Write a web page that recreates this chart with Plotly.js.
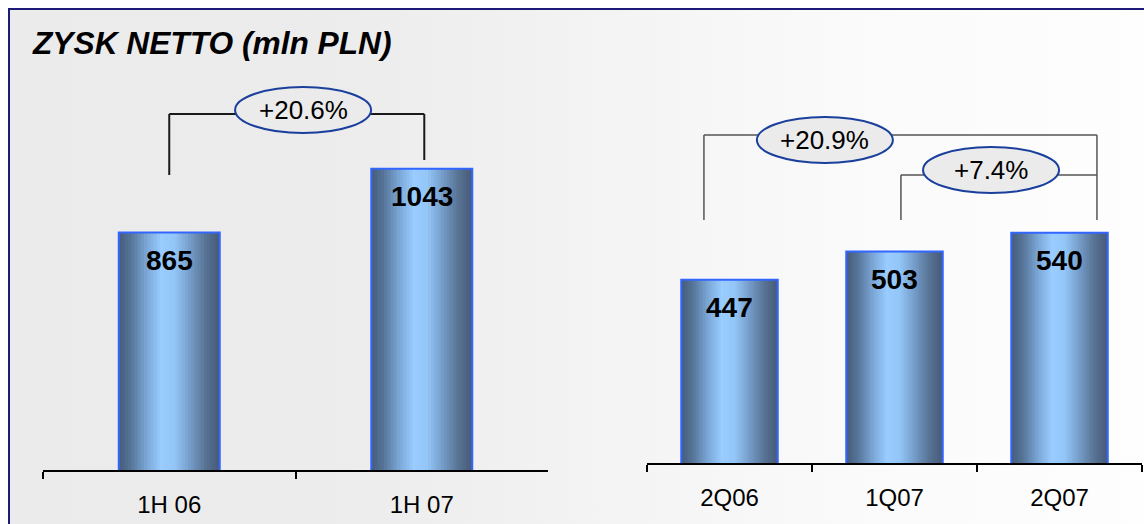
<!DOCTYPE html>
<html>
<head>
<meta charset="utf-8">
<script src="https://cdn.plot.ly/plotly-3.0.1.min.js"></script>
<style>
  html, body { margin: 0; padding: 0; background: #ffffff; }
  #wrap { position: relative; width: 1144px; height: 524px; overflow: hidden; }
  #bg {
    position: absolute; left: 8px; top: 8px; width: 1150px; height: 530px;
    border-top: 2px solid #1c1c78; border-left: 2px solid #1c1c78;
    background: linear-gradient(to right, #ebebeb 0%, #ececec 28%, #f2f2f2 48%, #f7f7f7 62%, #fbfbfb 78%, #fefefe 100%);
  }
  #chart { position: absolute; left: 0; top: 0; width: 1144px; height: 524px; }
</style>
</head>
<body>
<div id="wrap">
  <div id="bg"></div>
  <div id="chart"></div>
</div>
<script>
// ---- data ----
const titleText = 'ZYSK NETTO (mln PLN)';
const halfYearCats = ['1H 06', '1H 07'];
const halfYearVals = [865, 1043];
const quarterCats = ['2Q06', '1Q07', '2Q07'];
const quarterVals = [447, 503, 540];
const changeHalfYear = '+20.6%';
const changeYoY = '+20.9%';
const changeQoQ = '+7.4%';

// ---- style helpers ----
const FONT = 'Arial, "Liberation Sans", sans-serif';
const W = 1144, H = 524;
const py = p => 1 - p / H;
const px = p => p / W;

const stops = [
  [0.00, [70, 92, 122]],
  [0.12, [86, 116, 152]],
  [0.28, [124, 168, 216]],
  [0.42, [153, 204, 255]],
  [0.55, [148, 198, 248]],
  [0.70, [118, 158, 202]],
  [0.86, [88, 115, 148]],
  [1.00, [70, 90, 118]]
];
function gradColor(t) {
  for (let i = 0; i < stops.length - 1; i++) {
    const a = stops[i], b = stops[i + 1];
    if (t >= a[0] && t <= b[0]) {
      const f = (t - a[0]) / (b[0] - a[0]);
      const c = a[1].map((v, k) => Math.round(v + (b[1][k] - v) * f));
      return 'rgb(' + c.join(',') + ')';
    }
  }
  return 'rgb(70,90,118)';
}

const N = 32;
function cylinderTraces(cats, vals, xa, ya, bw) {
  const out = [];
  const sw = bw / N;
  for (let i = 0; i < N; i++) {
    out.push({
      type: 'bar', x: cats, y: vals, xaxis: xa, yaxis: ya,
      width: bw - i * sw, offset: -bw / 2 + i * sw,
      marker: { color: gradColor((i + 0.5) / N), line: { width: 0 } },
      hoverinfo: 'skip', showlegend: false
    });
  }
  out.push({
    type: 'bar', x: cats, y: vals, xaxis: xa, yaxis: ya,
    width: bw, offset: -bw / 2,
    marker: { color: 'rgba(0,0,0,0)', line: { color: '#3366ff', width: 2 } },
    hoverinfo: 'skip', showlegend: false
  });
  return out;
}

const data = [].concat(
  cylinderTraces(halfYearCats, halfYearVals, 'x', 'y', 0.40),
  cylinderTraces(quarterCats, quarterVals, 'x2', 'y2', 0.585)
);

const xCommon = {
  type: 'category', tickson: 'boundaries', ticks: 'outside', ticklen: 7, tickwidth: 2,
  tickcolor: '#000', showline: true, linecolor: '#000', linewidth: 2,
  showgrid: false, zeroline: false, fixedrange: true, automargin: false,
  ticklabelstandoff: 12,
  tickfont: { family: FONT, size: 24, color: '#000' }
};
const yCommon = { visible: false, showgrid: false, zeroline: false, fixedrange: true };

const annotations = [];
halfYearCats.forEach((c, i) => annotations.push({
  x: c, y: halfYearVals[i], xref: 'x', yref: 'y', yshift: -28, yanchor: 'middle',
  text: '<b>' + halfYearVals[i] + '</b>', showarrow: false,
  font: { family: FONT, size: 28, color: '#000' }
}));
quarterCats.forEach((c, i) => annotations.push({
  x: c, y: quarterVals[i], xref: 'x2', yref: 'y2', yshift: -28, yanchor: 'middle',
  text: '<b>' + quarterVals[i] + '</b>', showarrow: false,
  font: { family: FONT, size: 28, color: '#000' }
}));
const pctFont = { family: FONT, size: 26, color: '#000' };
function pct(xref, x, yp, text) {
  return { x: x, y: py(yp), xref: xref, yref: 'paper', xanchor: 'center', yanchor: 'middle',
           text: text, showarrow: false, font: pctFont };
}
annotations.push(pct('x', 0.53, 110, changeHalfYear));
annotations.push(pct('x2', 0.578, 140, changeYoY));
annotations.push(pct('x2', 1.585, 170, changeQoQ));

function seg(xref, x0, y0, x1, y1, color, width) {
  return { type: 'line', xref: xref, yref: 'paper', x0: x0, x1: x1, y0: py(y0), y1: py(y1),
           line: { color: color, width: width } };
}
function oval(xref, xc, yc) {
  return { type: 'circle', xref: xref, yref: 'paper', xsizemode: 'pixel', ysizemode: 'pixel',
           xanchor: xc, yanchor: py(yc), x0: -68, x1: 68, y0: -23, y1: 23,
           fillcolor: '#ebebeb', line: { color: '#1a3f9c', width: 2 } };
}
const shapes = [
  seg('x', 0, 114, 1.01, 114, '#1a1a1a', 2),
  seg('x', 0, 114, 0, 175, '#1a1a1a', 2),
  seg('x', 1.01, 114, 1.01, 160, '#1a1a1a', 2),
  seg('x2', -0.155, 135, 2.227, 135, '#555555', 1.5),
  seg('x2', -0.155, 135, -0.155, 220, '#555555', 1.5),
  seg('x2', 2.227, 135, 2.227, 220, '#555555', 1.5),
  seg('x2', 1.039, 175, 2.227, 175, '#555555', 1.5),
  seg('x2', 1.039, 175, 1.039, 220, '#555555', 1.5),
  oval('x', 0.53, 110),
  oval('x2', 0.578, 140),
  oval('x2', 1.585, 170)
];

const layout = {
  width: W, height: H,
  margin: { l: 0, r: 0, t: 0, b: 0 },
  paper_bgcolor: 'rgba(0,0,0,0)', plot_bgcolor: 'rgba(0,0,0,0)',
  showlegend: false, barmode: 'overlay',
  title: {
    text: '<b><i>' + titleText + '</i></b>', x: px(33), xanchor: 'left',
    xref: 'paper', yref: 'container', y: py(43), yanchor: 'middle',
    font: { family: FONT, size: 31.7, color: '#000' }
  },
  xaxis: Object.assign({}, xCommon, { domain: [px(43), px(548)], range: [-0.5, 1.5], anchor: 'y' }),
  yaxis: Object.assign({}, yCommon, { domain: [py(470), py(60)], range: [200, 1347.5], anchor: 'x' }),
  xaxis2: Object.assign({}, xCommon, { domain: [px(647), px(1142)], range: [-0.5, 2.5], anchor: 'y2' }),
  yaxis2: Object.assign({}, yCommon, { domain: [py(463), py(60)], range: [85.3, 881.1], anchor: 'x2' }),
  annotations: annotations,
  shapes: shapes
};

Plotly.newPlot('chart', data, layout, { staticPlot: true, displayModeBar: false });
</script>
</body>
</html>
